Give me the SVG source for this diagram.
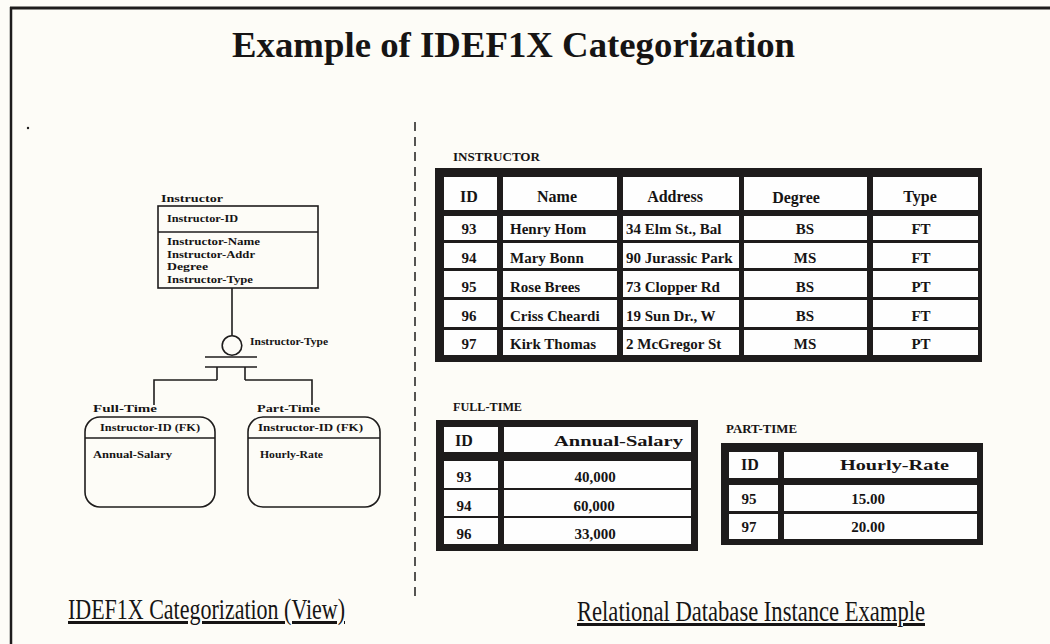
<svg xmlns="http://www.w3.org/2000/svg" width="1050" height="644" viewBox="0 0 1050 644">
<style>
.bg{fill:#fdfcf7}
.ln{stroke:#1e1c1c;stroke-width:1.6;fill:none}
.frame{fill:#1e1c1c}
.cell{fill:#fefefe}
.t{font-family:"Liberation Serif","Times New Roman",serif;font-weight:bold;fill:#161414}
.sm{font-size:11px}
.hd{font-size:16px}
.dt{font-size:15px}
.lab{font-size:12px}
.cap{font-family:"Liberation Serif","Times New Roman",serif;font-size:30px;fill:#161414;text-decoration:underline}
</style>
<defs>
<clipPath id="addrClip"><rect x="623" y="210" width="116" height="150"/></clipPath>
</defs>
<rect class="bg" x="0" y="0" width="1050" height="644"/>
<g id="page-border">
<line x1="10" y1="8" x2="1050" y2="8" stroke="#1e1c1c" stroke-width="3"/>
<line x1="11" y1="7" x2="11" y2="644" stroke="#1e1c1c" stroke-width="2.5"/>
<line x1="415" y1="122" x2="415" y2="598" stroke="#1e1c1c" stroke-width="1.5" stroke-dasharray="9 6"/>
<circle cx="28" cy="128" r="1.2" fill="#1e1c1c"/>
</g>
<g id="title"><text class="t" x="232" y="57" font-size="36" textLength="563" lengthAdjust="spacingAndGlyphs">Example of IDEF1X Categorization</text></g>

<g id="connectors">
<line class="ln" x1="232" y1="288" x2="232" y2="335.5"/>
<line class="ln" x1="217" y1="367" x2="217" y2="380"/>
<polyline class="ln" points="217,380 154,380 154,405"/>
<line class="ln" x1="245" y1="367" x2="245" y2="380"/>
<polyline class="ln" points="245,380 312,380 312,405"/>
</g>

<g id="entity-instructor">
<text class="t sm" x="161" y="202" textLength="62" lengthAdjust="spacingAndGlyphs">Instructor</text>
<rect class="ln" x="158" y="206" width="160" height="82"/>
<line class="ln" x1="158" y1="232" x2="318" y2="232"/>
<text class="t sm" x="167" y="222" textLength="71" lengthAdjust="spacingAndGlyphs">Instructor-ID</text>
<text class="t sm" x="167" y="245" textLength="93" lengthAdjust="spacingAndGlyphs">Instructor-Name</text>
<text class="t sm" x="167" y="258" textLength="88" lengthAdjust="spacingAndGlyphs">Instructor-Addr</text>
<text class="t sm" x="167" y="270" textLength="41" lengthAdjust="spacingAndGlyphs">Degree</text>
<text class="t sm" x="167" y="283" textLength="86" lengthAdjust="spacingAndGlyphs">Instructor-Type</text>
</g>

<g id="category-discriminator">
<circle class="ln" cx="232" cy="345.5" r="9.8"/>
<line class="ln" x1="205" y1="357" x2="257" y2="357" stroke-width="2"/>
<line class="ln" x1="205" y1="367" x2="257" y2="367" stroke-width="2"/>
<text class="t sm" x="250" y="345" textLength="78" lengthAdjust="spacingAndGlyphs">Instructor-Type</text>
</g>

<g id="subtype-full-time">
<text class="t sm" x="93" y="412" textLength="64" lengthAdjust="spacingAndGlyphs">Full-Time</text>
<rect class="ln" x="85" y="417" width="130" height="90" rx="15" ry="15"/>
<line class="ln" x1="85" y1="438" x2="215" y2="438"/>
<text class="t sm" x="100" y="431" textLength="100" lengthAdjust="spacingAndGlyphs">Instructor-ID (FK)</text>
<text class="t sm" x="93" y="458" textLength="79" lengthAdjust="spacingAndGlyphs">Annual-Salary</text>
</g>

<g id="subtype-part-time">
<text class="t sm" x="257" y="412" textLength="63" lengthAdjust="spacingAndGlyphs">Part-Time</text>
<rect class="ln" x="248" y="417" width="132" height="90" rx="15" ry="15"/>
<line class="ln" x1="248" y1="438" x2="380" y2="438"/>
<text class="t sm" x="258" y="431" textLength="105" lengthAdjust="spacingAndGlyphs">Instructor-ID (FK)</text>
<text class="t sm" x="260" y="458" textLength="63" lengthAdjust="spacingAndGlyphs">Hourly-Rate</text>
</g>

<g id="table-instructor">
<text class="t lab" x="453" y="161" textLength="87" lengthAdjust="spacingAndGlyphs">INSTRUCTOR</text>
<rect class="frame" x="435" y="168" width="547" height="194"/>
<g class="cell">
<rect x="444" y="177" width="53" height="33"/><rect x="503" y="177" width="114" height="33"/><rect x="623" y="177" width="116" height="33"/><rect x="744" y="177" width="123" height="33"/><rect x="873" y="177" width="105" height="33"/>
<rect x="444" y="216" width="53" height="24"/><rect x="503" y="216" width="114" height="24"/><rect x="623" y="216" width="116" height="24"/><rect x="744" y="216" width="123" height="24"/><rect x="873" y="216" width="105" height="24"/>
<rect x="444" y="243" width="53" height="25"/><rect x="503" y="243" width="114" height="25"/><rect x="623" y="243" width="116" height="25"/><rect x="744" y="243" width="123" height="25"/><rect x="873" y="243" width="105" height="25"/>
<rect x="444" y="271" width="53" height="26"/><rect x="503" y="271" width="114" height="26"/><rect x="623" y="271" width="116" height="26"/><rect x="744" y="271" width="123" height="26"/><rect x="873" y="271" width="105" height="26"/>
<rect x="444" y="300" width="53" height="27"/><rect x="503" y="300" width="114" height="27"/><rect x="623" y="300" width="116" height="27"/><rect x="744" y="300" width="123" height="27"/><rect x="873" y="300" width="105" height="27"/>
<rect x="444" y="330" width="53" height="25"/><rect x="503" y="330" width="114" height="25"/><rect x="623" y="330" width="116" height="25"/><rect x="744" y="330" width="123" height="25"/><rect x="873" y="330" width="105" height="25"/>
</g>
<g class="t hd" text-anchor="middle">
<text x="469" y="202">ID</text><text x="557" y="202">Name</text><text x="675" y="202">Address</text><text x="796" y="203">Degree</text><text x="920" y="202">Type</text>
</g>
<g class="t dt" text-anchor="middle">
<text x="469" y="234">93</text><text x="469" y="263">94</text><text x="469" y="292">95</text><text x="469" y="321">96</text><text x="469" y="349">97</text>
<text x="805" y="234">BS</text><text x="805" y="263">MS</text><text x="805" y="292">BS</text><text x="805" y="321">BS</text><text x="805" y="349">MS</text>
<text x="921" y="234">FT</text><text x="921" y="263">FT</text><text x="921" y="292">PT</text><text x="921" y="321">FT</text><text x="921" y="349">PT</text>
</g>
<g class="t dt">
<text x="510" y="234">Henry Hom</text><text x="510" y="263">Mary Bonn</text><text x="510" y="292">Rose Brees</text><text x="510" y="321">Criss Cheardi</text><text x="510" y="349">Kirk Thomas</text>
</g>
<g class="t dt" clip-path="url(#addrClip)">
<text x="626" y="234">34 Elm St., Bal</text><text x="626" y="263">90 Jurassic Park</text><text x="626" y="292">73 Clopper Rd</text><text x="626" y="321">19 Sun Dr., W</text><text x="626" y="349">2 McGregor St</text>
</g>
</g>

<g id="table-full-time">
<text class="t lab" x="453" y="411" textLength="69" lengthAdjust="spacingAndGlyphs">FULL-TIME</text>
<rect class="frame" x="436" y="420" width="262" height="131"/>
<g class="cell">
<rect x="444" y="427" width="54" height="25"/><rect x="504" y="427" width="187" height="25"/>
<rect x="444" y="461" width="54" height="27"/><rect x="504" y="461" width="187" height="27"/>
<rect x="444" y="490" width="54" height="26"/><rect x="504" y="490" width="187" height="26"/>
<rect x="444" y="518" width="54" height="26"/><rect x="504" y="518" width="187" height="26"/>
</g>
<text class="t hd" x="464" y="446" text-anchor="middle">ID</text>
<text class="t" font-size="15" x="554" y="446" textLength="129" lengthAdjust="spacingAndGlyphs">Annual-Salary</text>
<g class="t dt" text-anchor="middle">
<text x="464" y="482">93</text><text x="464" y="511">94</text><text x="464" y="539">96</text>
<text x="595" y="482">40,000</text><text x="594" y="511">60,000</text><text x="595" y="539">33,000</text>
</g>
</g>

<g id="table-part-time">
<text class="t lab" x="726" y="433" textLength="71" lengthAdjust="spacingAndGlyphs">PART-TIME</text>
<rect class="frame" x="721" y="443" width="262" height="102"/>
<g class="cell">
<rect x="729" y="452" width="49" height="26"/><rect x="784" y="452" width="193" height="26"/>
<rect x="729" y="485" width="49" height="26"/><rect x="784" y="485" width="193" height="26"/>
<rect x="729" y="514" width="49" height="25"/><rect x="784" y="514" width="193" height="25"/>
</g>
<text class="t hd" x="750" y="470" text-anchor="middle">ID</text>
<text class="t" font-size="15" x="840" y="470" textLength="109" lengthAdjust="spacingAndGlyphs">Hourly-Rate</text>
<g class="t dt" text-anchor="middle">
<text x="749" y="504">95</text><text x="749" y="532">97</text>
<text x="868" y="504">15.00</text><text x="868" y="532">20.00</text>
</g>
</g>

<g id="captions">
<text class="cap" x="68" y="619" textLength="277" lengthAdjust="spacingAndGlyphs">IDEF1X Categorization (View)</text>
<text class="cap" x="577" y="621" textLength="348" lengthAdjust="spacingAndGlyphs">Relational Database Instance Example</text>
</g>
</svg>
